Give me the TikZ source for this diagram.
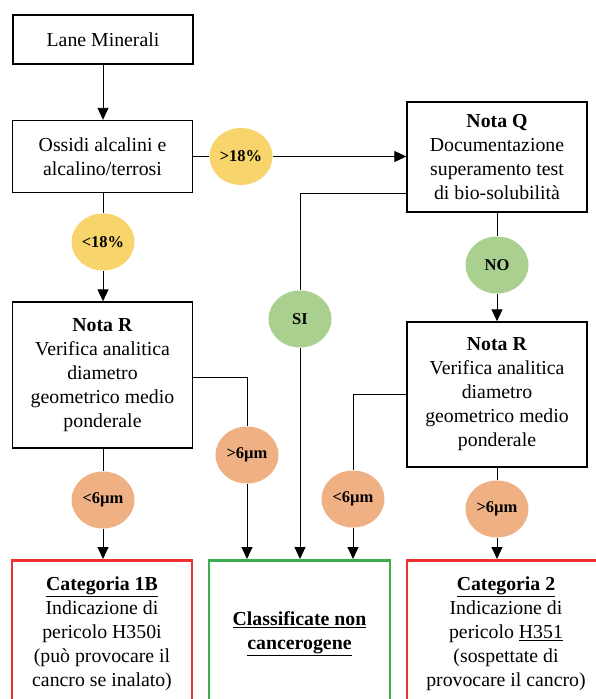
\documentclass[tikz,border=0pt]{standalone}
\usepackage{fontspec}
\setmainfont{Liberation Serif}
\usetikzlibrary{shapes.geometric,arrows.meta}
\definecolor{yel}{HTML}{F7D46C}
\definecolor{grn}{HTML}{A9D08E}
\definecolor{org}{HTML}{EFB084}
\definecolor{redb}{HTML}{EE3030}
\definecolor{grnb}{HTML}{3DAE4F}
\begin{document}
\begin{tikzpicture}[x=1pt,y=-1pt,
 box/.style={draw,line width=1.4pt,minimum width=180pt,align=center,inner sep=2pt,font=\fontsize{19.8}{24}\selectfont},
 lab/.style={ellipse,minimum width=63pt,minimum height=57pt,inner sep=0pt,font=\bfseries\fontsize{16.5}{18}\selectfont},
 conn/.style={line width=0.9pt},
 arr/.style={conn,-{Triangle[length=12pt,width=11pt]}},
 catbox/.style={draw,line width=2.8pt,minimum height=146pt,align=center,anchor=north,inner sep=2pt,font=\fontsize{19.8}{24}\selectfont}]
\useasboundingbox (0,0) rectangle (596,699);
% main boxes
\node[box,minimum height=49pt] (lane) at (103,39.5) {Lane Minerali};
\node[box,minimum height=72pt] (oss) at (102.5,156.5) {Ossidi alcalini e\\alcalino/terrosi};
\node[box,minimum height=110pt] (nq) at (497,157) {\textbf{Nota Q}\\Documentazione\\superamento test\\di bio-solubilità};
\node[box,minimum height=146pt] (nrl) at (102.5,375) {\textbf{Nota R}\\Verifica analitica\\diametro\\geometrico medio\\ponderale};
\node[box,minimum height=145pt] (nrr) at (497,394.5) {\textbf{Nota R}\\Verifica analitica\\diametro\\geometrico medio\\ponderale};
% condition labels
\node[lab,fill=yel] (lt18) at (103,242) {<18\%};
\node[lab,fill=yel] (gt18) at (241,156.5) {>18\%};
\node[lab,fill=grn] (si) at (300,319) {SI};
\node[lab,fill=grn] (no) at (497,265) {NO};
\node[lab,fill=org] (gt6l) at (247,455) {>6µm};
\node[lab,fill=org] (lt6l) at (103,500) {<6µm};
\node[lab,fill=org] (lt6r) at (353,499) {<6µm};
\node[lab,fill=org] (gt6r) at (497,509) {>6µm};
% result boxes
\begin{scope}
\clip (0,0) rectangle (596,699);
\node[catbox,draw=redb,minimum width=180pt] (c1) at (102,559) {\underline{\textbf{Categoria 1B}}\\Indicazione di\\pericolo H350i\\(può provocare il\\cancro se inalato)};
\node[catbox,draw=grnb,minimum width=181pt] (c0) at (299.5,559) {\underline{\textbf{Classificate non}}\\\underline{\textbf{cancerogene}}};
\node[catbox,draw=redb,minimum width=198pt] (c2) at (506,559) {\underline{\textbf{Categoria 2}}\\Indicazione di\\pericolo \underline{H351}\\(sospettate di\\provocare il cancro)};
\end{scope}
% bend points
\coordinate (siT) at (300,193);
\coordinate (k1) at (247,377);
\coordinate (k2) at (353,394);
% connectors
\draw[arr] (lane.south) -- (lane.south |- oss.north);
\draw[conn] (lt18.north |- oss.south) -- (lt18.north);
\draw[arr] (lt18.south) -- (lt18.south |- nrl.north);
\draw[conn] (oss.east) -- (gt18.west);
\draw[arr] (gt18.east) -- (gt18.east -| nq.west);
\draw[conn] (siT -| nq.west) -- (siT) -- (si.north);
\draw[arr] (si.south) -- (si.south |- c0.north);
\draw[conn] (nq.south) -- (no.north);
\draw[arr] (no.south) -- (no.south |- nrr.north);
\draw[conn] (k1 -| nrl.east) -- (k1) -- (gt6l.north);
\draw[arr] (gt6l.south) -- (gt6l.south |- c0.north);
\draw[conn] (lt6l.north |- nrl.south) -- (lt6l.north);
\draw[arr] (lt6l.south) -- (lt6l.south |- c1.north);
\draw[conn] (k2 -| nrr.west) -- (k2) -- (lt6r.north);
\draw[arr] (lt6r.south) -- (lt6r.south |- c0.north);
\draw[conn] (nrr.south) -- (gt6r.north);
\draw[arr] (gt6r.south) -- (gt6r.south |- c2.north);
\end{tikzpicture}
\end{document}
